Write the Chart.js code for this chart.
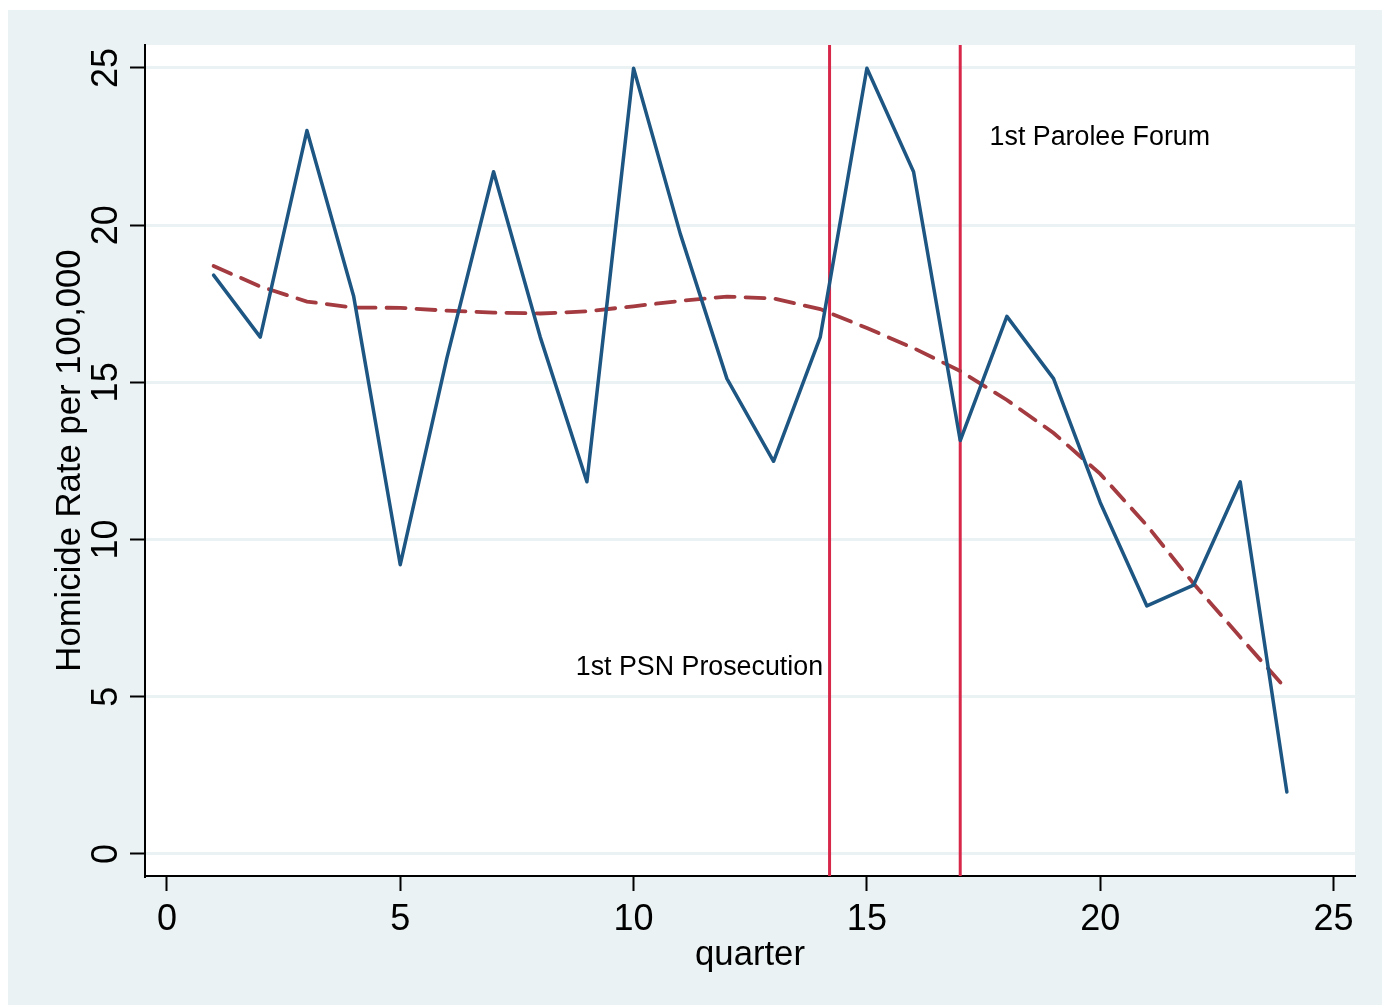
<!DOCTYPE html>
<html>
<head>
<meta charset="utf-8">
<title>Homicide Rate per 100,000 by quarter</title>
<script src="https://cdn.jsdelivr.net/npm/chart.js@4.4.1/dist/chart.umd.min.js"></script>
<style>
  html, body { margin: 0; padding: 0; background: #ffffff; }
  #wrap { width: 1382px; height: 1005px; }
  canvas { display: block; }
</style>
</head>
<body>
<div id="wrap"><canvas id="chart" width="1382" height="1005"></canvas></div>
<script>
// Quarterly homicide rate and its lowess smooth
const quarters = [1, 2, 3, 4, 5, 6, 7, 8, 9, 10, 11, 12, 13, 14, 15, 16, 17, 18, 19, 20, 21, 22, 23, 24];
const homicideRate = [18.41, 16.44, 23.01, 17.75, 9.20, 15.78, 21.70, 16.44, 11.84, 24.99, 19.73, 15.12,
                      12.49, 16.44, 24.99, 21.70, 13.15, 17.10, 15.12, 11.18, 7.89, 8.55, 11.84, 1.97];
const lowessFit = [18.70, 18.05, 17.57, 17.38, 17.37, 17.28, 17.22, 17.19, 17.26, 17.42, 17.59, 17.73,
                   17.67, 17.33, 16.73, 16.09, 15.36, 14.44, 13.39, 12.09, 10.45, 8.60, 6.90, 5.22];

// Interventions (quarter at which each started) and their text labels
const eventQuarters = [14.2, 17];
const eventLabels = ['1st PSN Prosecution', '1st Parolee Forum'];
const eventLabelX = [14.06, 17.63];
const eventLabelY = [5.93, 22.79];
const eventLabelAlign = ['right', 'left'];

// Axis ticks and ranges
const xTickValues = [0, 5, 10, 15, 20, 25];
const yTickValues = [0, 5, 10, 15, 20, 25];
const xRange = [-0.47, 25.46];
const yRange = [-0.70, 25.73];

const xTitle = 'quarter';
const yTitle = 'Homicide Rate per 100,000';

const FONT = '"Liberation Sans", Arial, Helvetica, sans-serif';
const BG = '#eaf2f3';

const toPoints = (xs, ys) => xs.map((x, i) => ({ x: x, y: ys[i] }));

const stataLook = {
  id: 'stataLook',
  beforeDraw(chart) {
    const { ctx, chartArea: a } = chart;
    ctx.save();
    ctx.fillStyle = '#ffffff';
    ctx.fillRect(0, 0, chart.width, chart.height);
    ctx.fillStyle = BG;
    ctx.fillRect(8, 10, chart.width - 8, chart.height - 10);
    ctx.fillStyle = '#ffffff';
    ctx.fillRect(a.left, a.top, a.right - a.left, a.bottom - a.top);
    ctx.restore();
  },
  beforeDatasetsDraw(chart) {
    const { ctx, chartArea: a, scales: { x } } = chart;
    ctx.save();
    ctx.strokeStyle = '#d8284a';
    ctx.lineWidth = 3;
    eventQuarters.forEach(q => {
      const px = x.getPixelForValue(q);
      ctx.beginPath();
      ctx.moveTo(px, a.top);
      ctx.lineTo(px, a.bottom);
      ctx.stroke();
    });
    ctx.restore();
  },
  afterDraw(chart) {
    const { ctx, chartArea: a, scales: { x, y } } = chart;
    ctx.save();
    ctx.fillStyle = '#000000';

    // x tick labels
    ctx.font = '36px ' + FONT;
    ctx.textAlign = 'center';
    ctx.textBaseline = 'alphabetic';
    x.ticks.forEach(t => {
      ctx.fillText(String(t.value), x.getPixelForValue(t.value), 930);
    });

    // y tick labels, rotated to read upward
    y.ticks.forEach(t => {
      ctx.save();
      ctx.translate(117, y.getPixelForValue(t.value));
      ctx.rotate(-Math.PI / 2);
      ctx.fillText(String(t.value), 0, 0);
      ctx.restore();
    });

    // axis titles
    ctx.font = '34.7px ' + FONT;
    ctx.fillText(xTitle, (a.left + a.right) / 2, 965);
    ctx.save();
    ctx.translate(80, (a.top + a.bottom) / 2);
    ctx.rotate(-Math.PI / 2);
    ctx.fillText(yTitle, 0, 0);
    ctx.restore();

    // event labels
    ctx.font = '26.8px ' + FONT;
    ctx.textBaseline = 'middle';
    eventLabels.forEach((txt, i) => {
      ctx.textAlign = eventLabelAlign[i];
      ctx.fillText(txt, x.getPixelForValue(eventLabelX[i]), y.getPixelForValue(eventLabelY[i]));
    });
    ctx.restore();
  }
};

new Chart(document.getElementById('chart'), {
  type: 'line',
  data: {
    datasets: [
      {
        label: 'Homicide Rate',
        data: toPoints(quarters, homicideRate),
        borderColor: '#1d5682',
        borderWidth: 3.5,
        pointRadius: 0,
        tension: 0,
        borderJoinStyle: 'round',
        borderCapStyle: 'round'
      },
      {
        label: 'Lowess',
        data: toPoints(quarters, lowessFit),
        borderColor: '#a33b41',
        borderWidth: 3.8,
        borderDash: [19, 11],
        borderCapStyle: 'round',
        pointRadius: 0,
        tension: 0
      }
    ]
  },
  options: {
    responsive: false,
    devicePixelRatio: 1,
    animation: false,
    events: [],
    layout: { padding: { top: 45, right: 27, left: 0, bottom: 0 } },
    plugins: {
      legend: { display: false },
      tooltip: { enabled: false },
      title: { display: false }
    },
    scales: {
      x: {
        type: 'linear',
        min: xRange[0],
        max: xRange[1],
        afterFit(s) { s.height = 129; },
        afterBuildTicks(s) { s.ticks = xTickValues.map(v => ({ value: v })); },
        ticks: { display: false, includeBounds: false },
        grid: {
          drawOnChartArea: false,
          drawTicks: true,
          tickLength: 15,
          tickColor: '#000000',
          tickWidth: 2
        },
        border: { display: true, color: '#000000', width: 2 }
      },
      y: {
        type: 'linear',
        min: yRange[0],
        max: yRange[1],
        afterFit(s) { s.width = 145; },
        afterBuildTicks(s) { s.ticks = yTickValues.map(v => ({ value: v })); },
        ticks: { display: false, includeBounds: false },
        grid: {
          color: BG,
          lineWidth: 3,
          drawTicks: true,
          tickLength: 15,
          tickColor: '#000000',
          tickWidth: 2
        },
        border: { display: true, color: '#000000', width: 2 }
      }
    }
  },
  plugins: [stataLook]
});
</script>
</body>
</html>
